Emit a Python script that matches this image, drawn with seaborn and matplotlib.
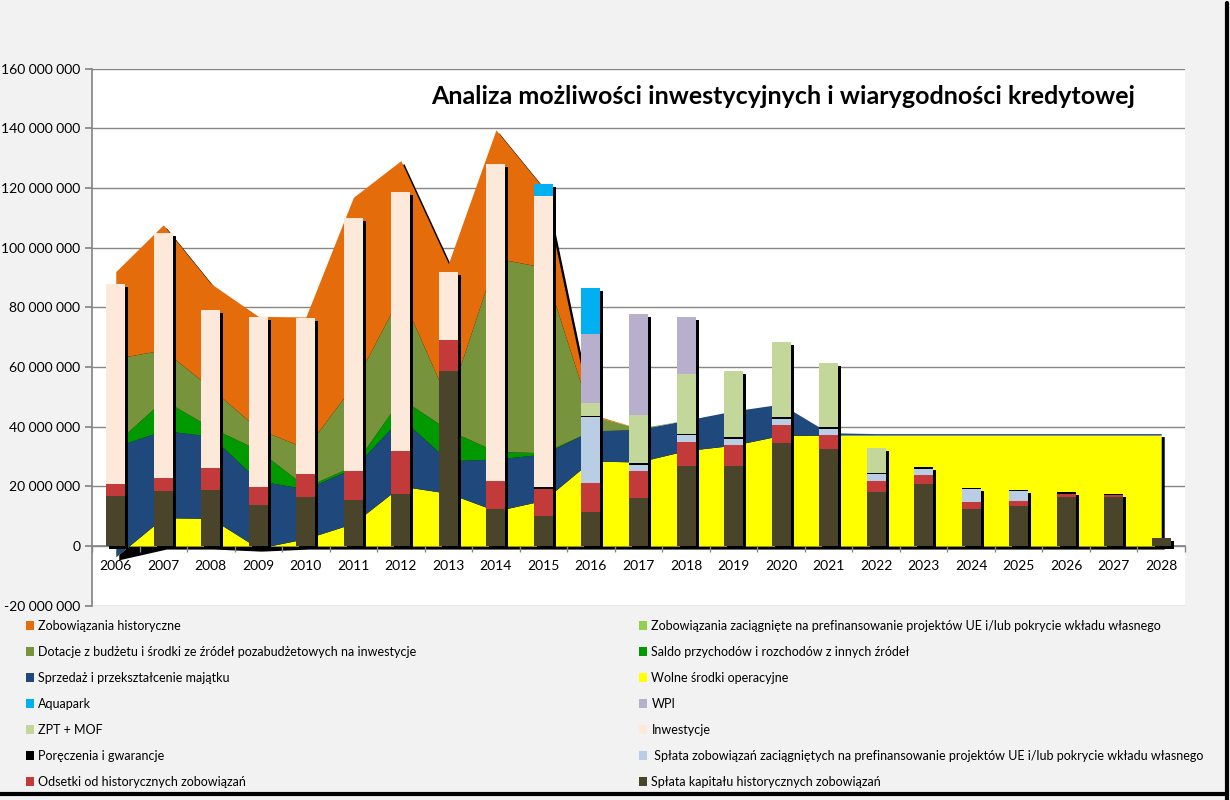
import matplotlib
matplotlib.use("Agg")
import matplotlib.pyplot as plt
from matplotlib.patches import Patch
from matplotlib.lines import Line2D
import seaborn as sns
import numpy as np

M = 1e6
years = [str(y) for y in range(2006, 2029)]

# ---- area series (mln zł), stacked bottom -> top ----
wolne = [-3.6, 9.5, 9.3, -0.7, 2.5, 7.6, 20.1, 17.7, 11.8, 15.3, 28.5, 28.2, 32.0,
         33.8, 37.1, 37.2, 37.2, 37.2, 37.2, 37.2, 37.2, 37.2, 37.2]
sprzedaz = [37.0, 29.2, 27.6, 22.6, 16.7, 18.5, 22.9, 10.9, 17.4, 15.5, 10.1, 10.9, 10.2,
            11.5, 10.5, 0.8, 0.5, 0.5, 0.5, 0.5, 0.5, 0.5, 0.5]
saldo = [1.2, 10.3, 2.9, 10.3, 0.7, 0.8, 6.5, 10.3, 2.5, 0.5, 0, 0, 0,
         0, 0, 0, 0, 0, 0, 0, 0, 0, 0]
dotacje = [28.3, 16.8, 13.2, 7.0, 12.9, 27.1, 35.0, 9.4, 64.8, 62.2, 5.2, 0.4, 0,
           0, 0, 0, 0, 0, 0, 0, 0, 0, 0]
zob_hist = [29.1, 41.9, 35.0, 37.8, 44.0, 62.9, 44.7, 46.4, 43.0, 26.5, 0.5, 0, 0,
            0, 0, 0, 0, 0, 0, 0, 0, 0, 0]
zob_ue = [0] * 23

# ---- bar series (mln zł), stacked bottom -> top ----
kapital = [16.8, 18.4, 18.7, 13.7, 16.5, 15.4, 17.6, 58.6, 12.4, 10.1, 11.4, 16.2, 26.9,
           26.9, 34.5, 32.5, 18.2, 20.9, 12.4, 13.5, 16.4, 16.5, 2.6]
odsetki = [4.0, 4.5, 7.5, 6.2, 7.6, 9.7, 14.2, 10.4, 9.4, 9.2, 9.7, 8.9, 8.0,
           6.9, 6.0, 4.7, 3.6, 2.9, 2.4, 1.6, 1.2, 0.6, 0]
splata_ue = [0, 0, 0, 0, 0, 0, 0, 0, 0, 0, 22.0, 2.2, 2.3,
             2.2, 2.2, 2.2, 2.2, 2.2, 4.2, 3.2, 0, 0, 0]
poreczenia = [0, 0, 0, 0, 0, 0, 0, 0, 0, 0.4, 0.4, 0.4, 0.4,
              0.4, 0.4, 0.4, 0.4, 0.4, 0.4, 0.4, 0.4, 0.4, 0]
inwestycje = [66.9, 82.0, 52.8, 56.9, 52.2, 84.7, 87.0, 22.7, 106.1, 97.5, 0, 0, 0,
              0, 0, 0, 0, 0, 0, 0, 0, 0, 0]
zpt_mof = [0, 0, 0, 0, 0, 0, 0, 0, 0, 0, 4.4, 16.1, 20.0,
           22.2, 25.2, 21.5, 8.5, 0, 0, 0, 0, 0, 0]
wpi = [0, 0, 0, 0, 0, 0, 0, 0, 0, 0, 23.1, 33.9, 19.1,
       0, 0, 0, 0, 0, 0, 0, 0, 0, 0]
aquapark = [0, 0, 0, 0, 0, 0, 0, 0, 0, 4.3, 15.4, 0, 0,
            0, 0, 0, 0, 0, 0, 0, 0, 0, 0]

area_layers = [
    ("Wolne środki operacyjne", wolne, "#FFFF00"),
    ("Sprzedaż i przekształcenie majątku", sprzedaz, "#1F497D"),
    ("Saldo przychodów i rozchodów z innych źródeł", saldo, "#009A00"),
    ("Dotacje z budżetu i środki ze źródeł pozabudżetowych na inwestycje", dotacje, "#77933C"),
    ("Zobowiązania historyczne", zob_hist, "#E46C0A"),
    ("Zobowiązania zaciągnięte na prefinansowanie projektów UE i/lub pokrycie wkładu własnego", zob_ue, "#92D050"),
]
bar_layers = [
    ("Spłata kapitału historycznych zobowiązań", kapital, "#4A442A"),
    ("Odsetki od historycznych zobowiązań", odsetki, "#C23B3A"),
    (" Spłata zobowiązań zaciągniętych na prefinansowanie projektów UE i/lub pokrycie wkładu własnego", splata_ue, "#B9CDE5"),
    ("Poręczenia i gwarancje", poreczenia, "#000000"),
    ("Inwestycje", inwestycje, "#FDE9D9"),
    ("ZPT + MOF", zpt_mof, "#C4D79B"),
    ("WPI", wpi, "#B7AFCB"),
    ("Aquapark", aquapark, "#00B0F0"),
]

sns.set_theme(style="white")
plt.rcParams["font.family"] = ["Lato", "DejaVu Sans"]
plt.rcParams["text.color"] = "black"
plt.rcParams["xtick.color"] = "black"
plt.rcParams["ytick.color"] = "black"

fig = plt.figure(figsize=(12.3, 8), dpi=100, facecolor="#F2F2F2")
ax = fig.add_axes([0.0748, 0.2428, 0.8886, 0.6713])
ax.set_facecolor("white")

x = np.arange(len(years))
dx, dy = 0.063, 1.0 * M

# bars: overlapping cumulative totals, top layer first
bar_cum = np.cumsum([np.array(v) * M for _, v, _ in bar_layers], axis=0)
for i in range(len(bar_layers) - 1, -1, -1):
    sns.barplot(x=years, y=bar_cum[i], color=bar_layers[i][2], width=0.4,
                saturation=1, errorbar=None, linewidth=0, edgecolor="none",
                zorder=5, ax=ax)

# bar shadows
ax.bar(x + dx, bar_cum[-1], bottom=-dy, width=0.4, color="black",
       edgecolor="none", linewidth=0, zorder=4)

# stacked areas
area_cum = np.cumsum([np.array(v) * M for _, v, _ in area_layers], axis=0)
base = np.zeros(len(x))
for i, (name, vals, col) in enumerate(area_layers):
    ax.fill_between(x, base, area_cum[i], color=col, lw=0, zorder=2)
    base = area_cum[i]
bottom = np.minimum(0, area_cum[0])
ax.fill_between(x + dx, bottom - dy, area_cum[-1] - dy, color="black", lw=0, zorder=1.5)

# axes styling
ax.set_xlim(-0.5, 22.5)
ax.set_ylim(-20 * M, 160 * M)
yt = np.arange(-20, 161, 20) * M
ax.set_yticks(yt)
ax.set_yticklabels([f"{int(v):,}".replace(",", " ") for v in yt], fontsize=10)
ax.yaxis.grid(True, color="#868686", lw=1)
ax.set_axisbelow(True)
for s in ["top", "right"]:
    ax.spines[s].set_visible(False)
ax.spines["left"].set_color("#868686")
ax.spines["bottom"].set_color("#868686")
ax.spines["bottom"].set_position(("data", 0))
ax.spines["bottom"].set_zorder(1)
ax.set_xticks(x)
ax.set_xticklabels(years, fontsize=10)
ax.set_xticks(np.arange(-0.5, 23, 1), minor=True)
ax.tick_params(axis="x", which="major", length=0, pad=10)
ax.tick_params(axis="x", which="minor", length=4, color="#868686", bottom=True)
ax.tick_params(axis="y", length=5, color="#868686", left=True)
ax.xaxis.set_zorder(6)
ax.set_xlabel("")
ax.set_ylabel("")

fig.text(0.6366, 0.88, "Analiza możliwości inwestycyjnych i wiarygodności kredytowej",
         ha="center", va="center", fontsize=18, fontweight="bold", color="black")

# legends (two columns)
left_names = ["Zobowiązania historyczne",
              "Dotacje z budżetu i środki ze źródeł pozabudżetowych na inwestycje",
              "Sprzedaż i przekształcenie majątku", "Aquapark", "ZPT + MOF",
              "Poręczenia i gwarancje", "Odsetki od historycznych zobowiązań"]
right_names = ["Zobowiązania zaciągnięte na prefinansowanie projektów UE i/lub pokrycie wkładu własnego",
               "Saldo przychodów i rozchodów z innych źródeł", "Wolne środki operacyjne",
               "WPI", "Inwestycje",
               " Spłata zobowiązań zaciągniętych na prefinansowanie projektów UE i/lub pokrycie wkładu własnego",
               "Spłata kapitału historycznych zobowiązań"]
colors = {n: c for n, _, c in area_layers + bar_layers}
for names, x0 in [(left_names, 0.0211), (right_names, 0.5195)]:
    fig.legend([Patch(facecolor=colors[n], lw=0) for n in names], names,
               loc="upper left", bbox_to_anchor=(x0, 0.2250), frameon=False,
               fontsize=9, handlelength=0.65, handleheight=0.65, handletextpad=0.35,
               labelspacing=1.12, borderpad=0, borderaxespad=0)

# chart frame shadow
fig.add_artist(Line2D([0.9976, 0.9976], [0.0, 0.996], color="black", lw=3))
fig.add_artist(Line2D([0.0, 0.9976], [0.0075, 0.0075], color="black", lw=3))

fig.savefig("out.png", dpi=100, facecolor=fig.get_facecolor())
